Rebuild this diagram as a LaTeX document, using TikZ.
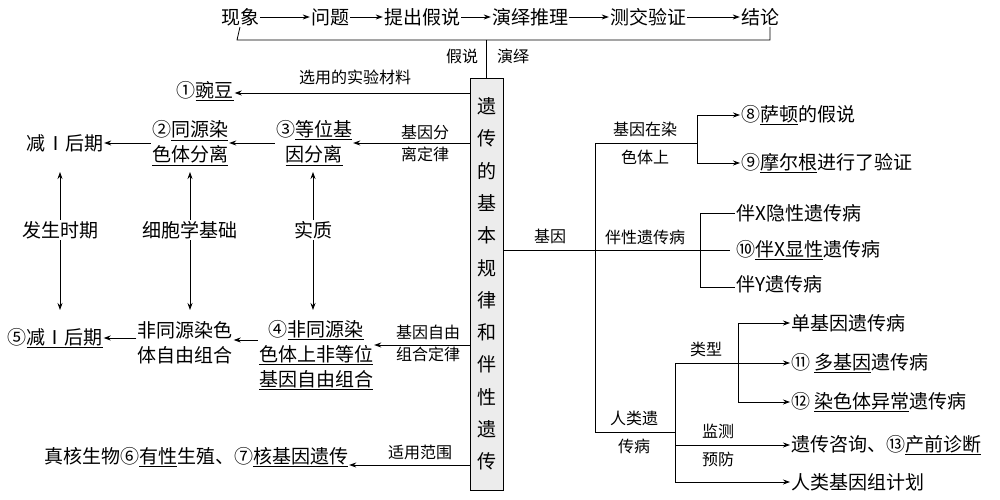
\documentclass[tikz,border=0pt]{standalone}
\usepackage{fontspec}
\setmainfont{Noto Sans CJK SC}
\usetikzlibrary{arrows.meta}
\tikzstyle{every node}=[inner sep=1pt,font=\fontsize{19}{25}\selectfont]
\tikzstyle{lbl}=[font=\fontsize{16}{22}\selectfont,align=center]
\tikzstyle{item}=[align=center]
\tikzstyle{link}=[draw=black,thick]
\tikzstyle{arr}=[link,-{Stealth[length=7pt,width=5pt]}]
\newcommand{\ul}[1]{\underline{#1}}
\begin{document}
\begin{tikzpicture}[x=1pt,y=-1pt]
  \useasboundingbox (0,0) rectangle (1000,500);
  % top chain
  \node (xx) at (240,17) {现象};
  \node (wt) at (330,17) {问题};
  \node (tc) at (422,17) {提出假说};
  \node (yy) at (530,17) {演绎推理};
  \node (cj) at (648,17) {测交验证};
  \node (jl) at (760,17) {结论};
  \draw[arr] (xx) -- (wt);
  \draw[arr] (wt) -- (tc);
  \draw[arr] (tc) -- (yy);
  \draw[arr] (yy) -- (cj);
  \draw[arr] (cj) -- (jl);
  \draw[link] (xx.south) -- (237,40) -- (770,40) -- (jl.south -| 770,0);
  % central box
  \node[draw,thick,fill=gray!15,minimum width=33pt,minimum height=412pt,
        align=center,inner sep=0pt,font=\fontsize{19}{32.3}\selectfont]
    (box) at (486.5,284) {遗\\传\\的\\基\\本\\规\\律\\和\\伴\\性\\遗\\传};
  \draw[link] (486.5,40) -- (box.north);
  \node[lbl] at (462,56) {假说};
  \node[lbl] at (513,56) {演绎};
  % left side
  \node[item] (wd) at (205,91) {①\ul{豌豆}};
  \draw[arr] (box.west |- 0,93) -- (wd.east |- 0,93);
  \node[lbl] at (355,77) {选用的实验材料};
  \node[item] (jh1) at (65,143) {减Ⅰ后期};
  \node[item] (ty) at (190,143) {②\ul{同源染}\\\ul{色体分离}};
  \node[item] (dw) at (314,143) {③\ul{等位基}\\\ul{因分离}};
  \node[lbl] at (425,143) {基因分\\离定律};
  \draw[arr] (box.west |- 0,143) -- (dw.east |- 0,143);
  \draw[arr] (dw.west |- 0,143) -- (ty.east |- 0,143);
  \draw[arr] (ty.west |- 0,143) -- (jh1.east |- 0,143);
  \node (fs) at (60,230) {发生时期};
  \node (xb) at (190,230) {细胞学基础};
  \node (sz) at (313,230) {实质};
  \node[item] (jh2) at (55,338) {⑤\ul{减Ⅰ后期}};
  \node[item] (fty) at (185,343) {非同源染色\\体自由组合};
  \node[item] (fdw) at (316,355) {④\ul{非同源染}\\\ul{色体上非等位}\\\ul{基因自由组合}};
  \node[lbl] at (428,343) {基因自由\\组合定律};
  \draw[arr] (box.west |- 0,345) -- (fdw.east |- 0,345);
  \draw[arr] (fdw.west |- 0,340) -- (fty.east |- 0,340);
  \draw[arr] (fty.west |- 0,338) -- (jh2.east |- 0,338);
  \draw[arr] (fs) -- (60,172);
  \draw[arr] (fs) -- (60,310);
  \draw[arr] (xb) -- (190,172);
  \draw[arr] (xb) -- (190,310);
  \draw[arr] (sz) -- (313,172);
  \draw[arr] (sz) -- (313,310);
  \node (fw) at (196,457) {真核生物⑥\ul{有性}生殖、⑦\ul{核基因遗传}};
  \node[lbl] at (420,452) {适用范围};
  \draw[arr] (box.west |- 0,465) -- (fw.east |- 0,465);
  % right side
  \draw[link] (box.east |- 0,250) -- (730,250);
  \node[lbl] at (550,236) {基因};
  \draw[link] (595,143) -- (595,432);
  % gene on chromosome
  \draw[link] (595,143) -- (697,143);
  \node[lbl] at (645,143) {基因在染\\[6pt]色体上};
  \node[anchor=west] (st) at (740,115) {⑧\ul{萨顿}的假说};
  \node[anchor=west] (me) at (740,163) {⑨\ul{摩尔根}进行了验证};
  \draw[arr] (697,143) |- (st.west);
  \draw[arr] (697,143) |- (me.west);
  % sex-linked
  \node[lbl] at (645,237) {伴性遗传病};
  \node[anchor=west] (xr) at (735,213) {伴X隐性遗传病};
  \node[anchor=west] (xd) at (735,250) {⑩\ul{伴X显性}遗传病};
  \node[anchor=west] (yl) at (735,284) {伴Y遗传病};
  \draw[link] (xr.west) -- (700,213) -- (700,287) -- (yl.west |- 0,287);
  % human genetic disease
  \draw[link] (595,432) -- (675,432);
  \node[lbl] at (634,432) {人类遗\\[6pt]传病};
  \draw[link] (675,363) -- (675,482);
  \node[anchor=west] (dj) at (790,323) {单基因遗传病};
  \node[anchor=west] (duo) at (790,363) {⑪ \ul{多基因}遗传病};
  \node[anchor=west] (rs) at (790,402) {⑫ \ul{染色体异常}遗传病};
  \node[anchor=west] (zx) at (790,445) {遗传咨询、⑬\ul{产前诊断}};
  \node[anchor=west] (jz) at (790,482) {人类基因组计划};
  \draw[arr] (675,363) -- (duo.west);
  \node[lbl] at (706,349) {类型};
  \draw[arr] (738,363) |- (dj.west);
  \draw[arr] (738,363) |- (rs.west);
  \draw[arr] (675,445) -- (zx.west);
  \node[lbl] at (718,445) {监测\\[6pt]预防};
  \draw[arr] (675,482) -- (jz.west);
\end{tikzpicture}
\end{document}
